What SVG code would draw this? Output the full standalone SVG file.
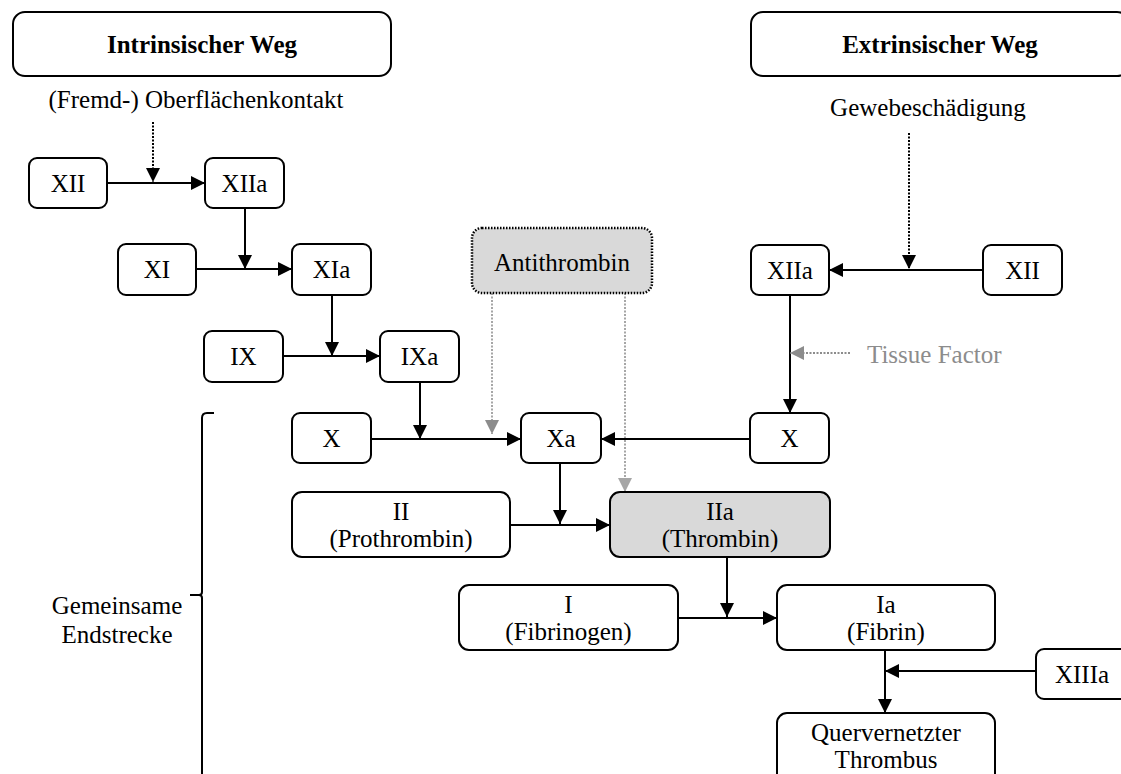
<svg xmlns="http://www.w3.org/2000/svg" width="1121" height="774" viewBox="0 0 1121 774">
<style>
text{font-family:"Liberation Serif","Times New Roman",serif;font-size:25px;fill:#000;text-anchor:middle}
.b{font-weight:bold}
.box{fill:#fff;stroke:#000;stroke-width:2}
.gray{fill:#d9d9d9}
.dotbox{fill:#d9d9d9;stroke:#000;stroke-width:2.5;stroke-dasharray:1.5 1.5}
.c{fill:none;stroke:#000;stroke-width:2}
.d{fill:none;stroke:#000;stroke-width:2;stroke-dasharray:2 1.5}
.g{fill:none;stroke:#a6a6a6;stroke-width:2;stroke-dasharray:2 1.5}
.gt{fill:#8c8c8c;text-anchor:start}
</style>
<defs>
<marker id="ah" markerUnits="userSpaceOnUse" markerWidth="14" markerHeight="14" viewBox="0 0 12 12" refX="12" refY="6" orient="auto"><path d="M0,0 L12,6 L0,12 z" fill="#000"/></marker>
<marker id="ahg" markerUnits="userSpaceOnUse" markerWidth="14" markerHeight="14" viewBox="0 0 12 12" refX="12" refY="6" orient="auto"><path d="M0,0 L12,6 L0,12 z" fill="#8c8c8c"/></marker>
<marker id="ahl" markerUnits="userSpaceOnUse" markerWidth="14" markerHeight="14" viewBox="0 0 12 12" refX="12" refY="6" orient="auto"><path d="M0,0 L12,6 L0,12 z" fill="#a6a6a6"/></marker>
</defs>

<g id="connectors">
<path class="c" d="M107,183 H205" marker-end="url(#ah)"/>
<path class="d" d="M153,122 V182" marker-end="url(#ah)"/>
<path class="c" d="M245,208 V269" marker-end="url(#ah)"/>
<path class="c" d="M196,269 H292" marker-end="url(#ah)"/>
<path class="c" d="M332,295 V356" marker-end="url(#ah)"/>
<path class="c" d="M283,356 H380" marker-end="url(#ah)"/>
<path class="c" d="M420,382 V439" marker-end="url(#ah)"/>
<path class="c" d="M371,439 H521" marker-end="url(#ah)"/>
<path class="g" d="M492,293 V434" marker-end="url(#ahg)"/>
<path class="g" d="M625,293 V492" marker-end="url(#ahl)"/>
<path class="c" d="M750,439 H601" marker-end="url(#ah)"/>
<path class="d" d="M909,133 V269" marker-end="url(#ah)"/>
<path class="c" d="M983,270 H829" marker-end="url(#ah)"/>
<path class="c" d="M790,295 V413" marker-end="url(#ah)"/>
<path d="M850,353 H790" fill="none" stroke="#8c8c8c" stroke-width="2" stroke-dasharray="2 1.5" marker-end="url(#ahg)"/>
<path class="c" d="M560,463 V524" marker-end="url(#ah)"/>
<path class="c" d="M510,525 H610" marker-end="url(#ah)"/>
<path class="c" d="M727,557 V617" marker-end="url(#ah)"/>
<path class="c" d="M678,618 H777" marker-end="url(#ah)"/>
<path class="c" d="M885,650 V713" marker-end="url(#ah)"/>
<path class="c" d="M1036,671 H885" marker-end="url(#ah)"/>
</g>

<g id="intrinsic-header">
<rect class="box" x="13" y="12" width="378" height="64" rx="12"/>
<text class="b" x="202" y="53">Intrinsischer Weg</text>
</g>
<g id="extrinsic-header">
<rect class="box" x="751" y="12" width="378" height="64" rx="12"/>
<text class="b" x="940" y="53">Extrinsischer Weg</text>
</g>
<g id="label-oberflaeche"><text x="196" y="108">(Fremd-) Oberflächenkontakt</text></g>
<g id="label-gewebe"><text x="928" y="116">Gewebeschädigung</text></g>

<g id="n-XII-i"><rect class="box" x="29" y="158" width="78" height="50" rx="8"/><text x="68" y="192">XII</text></g>
<g id="n-XIIa-i"><rect class="box" x="205" y="158" width="79" height="50" rx="8"/><text x="244.5" y="192">XIIa</text></g>
<g id="n-XI"><rect class="box" x="118" y="244" width="78" height="51" rx="8"/><text x="157" y="278">XI</text></g>
<g id="n-XIa"><rect class="box" x="292" y="244" width="79" height="51" rx="8"/><text x="331.5" y="278">XIa</text></g>
<g id="n-IX"><rect class="box" x="204" y="331" width="79" height="51" rx="8"/><text x="243.5" y="365">IX</text></g>
<g id="n-IXa"><rect class="box" x="380" y="331" width="79" height="51" rx="8"/><text x="419.5" y="365">IXa</text></g>
<g id="n-X-i"><rect class="box" x="292" y="413" width="79" height="50" rx="8"/><text x="331.5" y="447">X</text></g>
<g id="n-Xa"><rect class="box" x="521" y="413" width="80" height="50" rx="8"/><text x="561" y="447">Xa</text></g>
<g id="n-antithrombin"><rect class="dotbox" x="472" y="228" width="180" height="65" rx="10"/><text x="562" y="271">Antithrombin</text></g>
<g id="n-XIIa-e"><rect class="box" x="751" y="245" width="78" height="50" rx="8"/><text x="790" y="279">XIIa</text></g>
<g id="n-XII-e"><rect class="box" x="983" y="245" width="79" height="50" rx="8"/><text x="1022.5" y="279">XII</text></g>
<g id="label-tissue"><text class="gt" x="867" y="363">Tissue Factor</text></g>
<g id="n-X-e"><rect class="box" x="750" y="413" width="79" height="50" rx="8"/><text x="789.5" y="447">X</text></g>
<g id="n-II"><rect class="box" x="292" y="492" width="218" height="65" rx="10"/><text x="401" y="520">II</text><text x="401" y="547">(Prothrombin)</text></g>
<g id="n-IIa"><rect class="box gray" x="610" y="492" width="220" height="65" rx="10"/><text x="720" y="520">IIa</text><text x="720" y="547">(Thrombin)</text></g>
<g id="n-I"><rect class="box" x="459" y="585" width="219" height="65" rx="10"/><text x="568.5" y="613">I</text><text x="568.5" y="640">(Fibrinogen)</text></g>
<g id="n-Ia"><rect class="box" x="777" y="585" width="218" height="65" rx="10"/><text x="886" y="613">Ia</text><text x="886" y="640">(Fibrin)</text></g>
<g id="n-XIIIa"><rect class="box" x="1036" y="649" width="92" height="50" rx="8"/><text x="1082" y="683">XIIIa</text></g>
<g id="n-thrombus"><rect class="box" x="777" y="713" width="218" height="70" rx="10"/><text x="886" y="741">Quervernetzter</text><text x="886" y="768">Thrombus</text></g>

<g id="brace">
<path d="M214,413 H207 Q202,413 202,418 V592 Q202,595 199,595 H190 M199,595 Q202,595 202,598 V776" fill="none" stroke="#000" stroke-width="2"/>
<text x="117" y="614">Gemeinsame</text>
<text x="117" y="643">Endstrecke</text>
</g>
</svg>
